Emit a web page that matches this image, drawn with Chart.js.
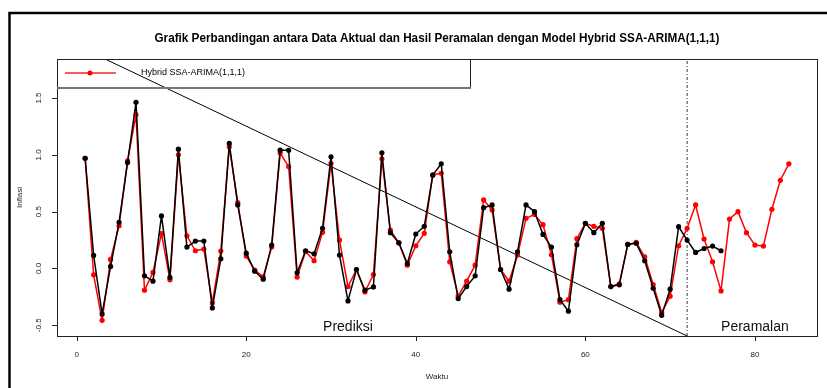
<!DOCTYPE html>
<html>
<head>
<meta charset="utf-8">
<script src="https://cdn.jsdelivr.net/npm/chart.js@4.4.1/dist/chart.umd.min.js"></script>
<style>
  html, body { margin: 0; padding: 0; background: #fff; }
  canvas { display: block; }
</style>
</head>
<body>
<canvas id="grafik" width="827" height="388"></canvas>
<script>
// data inflasi aktual (periode 1..76)
const aktual = [
  0.97, 0.115, -0.40, 0.018, 0.406, 0.932, 1.462, -0.065, -0.112, 0.462,
  -0.079, 1.05, 0.188, 0.241, 0.241, -0.347, 0.085, 1.10, 0.559, 0.135,
  -0.024, -0.094, 0.206, 1.041, 1.04, -0.038, 0.156, 0.129, 0.353, 0.982,
  0.118, -0.285, -0.009, -0.191, -0.162, 1.018, 0.315, 0.226, 0.044, 0.303,
  0.371, 0.821, 0.921, 0.147, -0.265, -0.159, -0.065, 0.535, 0.559, -0.009,
  -0.182, 0.147, 0.559, 0.50, 0.30, 0.188, -0.274, -0.376, 0.209, 0.397,
  0.315, 0.397, -0.159, -0.144, 0.212, 0.221, 0.068, -0.174, -0.412, -0.182,
  0.368, 0.25, 0.141, 0.176, 0.197, 0.156
];

// hasil model hybrid SSA-ARIMA(1,1,1): prediksi 1..72, peramalan 73..84
const hybrid = [
  0.97, -0.056, -0.456, 0.08, 0.376, 0.947, 1.353, -0.191, -0.035, 0.306,
  -0.10, 1.0, 0.288, 0.156, 0.171, -0.303, 0.153, 1.07, 0.579, 0.109,
  -0.015, -0.074, 0.188, 1.015, 0.897, -0.076, 0.15, 0.068, 0.318, 0.926,
  0.25, -0.159, -0.009, -0.206, -0.053, 0.965, 0.338, 0.226, 0.029, 0.20,
  0.309, 0.824, 0.838, 0.059, -0.241, -0.112, 0.029, 0.603, 0.515, -0.009,
  -0.112, 0.118, 0.441, 0.476, 0.385, 0.121, -0.297, -0.274, 0.262, 0.397,
  0.371, 0.353, -0.159, -0.135, 0.212, 0.229, 0.103, -0.141, -0.388, -0.244,
  0.20, 0.353, 0.559, 0.259, 0.059, -0.197, 0.435, 0.50, 0.315, 0.206,
  0.197, 0.521, 0.776, 0.921
];

const xTicks = [0, 20, 40, 60, 80];
const yTicks = [-0.5, 0.0, 0.5, 1.0, 1.5];
const xRange = [-2.32, 87.32];
const yRange = [-0.594, 1.843];

// garis pemisah prediksi / peramalan dan garis miring
const batasX = 72;
const garisX = [3.35, 72];
const garisY = [1.843, -0.594];

const judul = 'Grafik Perbandingan antara Data Aktual dan Hasil Peramalan dengan Model Hybrid SSA-ARIMA(1,1,1)';
const labelLegenda = 'Hybrid SSA-ARIMA(1,1,1)';
const teksBagian = [
  { text: 'Prediksi', x: 32, y: -0.52 },
  { text: 'Peramalan', x: 80, y: -0.52 }
];

const FONT = '"Liberation Sans", Arial, sans-serif';
const toXY = (arr) => arr.map((v, i) => ({ x: i + 1, y: v }));

const dekorasi = {
  id: 'dekorasi',
  beforeDraw(chart) {
    const { ctx } = chart;
    ctx.save();
    ctx.fillStyle = '#fff';
    ctx.fillRect(0, 0, chart.width, chart.height);
    ctx.restore();
  },
  afterDatasetsDraw(chart) {
    const { ctx, chartArea: a, scales: { x, y } } = chart;
    ctx.save();

    // bingkai luar
    ctx.strokeStyle = '#000';
    ctx.lineWidth = 2.5;
    ctx.strokeRect(9.5, 13, 900, 500);

    // judul
    ctx.fillStyle = '#000';
    ctx.font = 'bold 13px "Liberation Sans Narrow", ' + FONT;
    ctx.textAlign = 'center';
    ctx.textBaseline = 'middle';
    const w = ctx.measureText(judul).width;
    ctx.save();
    ctx.translate((a.left + a.right) / 2, 38);
    ctx.scale(565 / w, 1);
    ctx.fillText(judul, 0, 0);
    ctx.restore();

    // kotak area plot
    ctx.strokeStyle = '#222';
    ctx.lineWidth = 1;
    ctx.strokeRect(a.left + 0.5, a.top + 0.5, a.right - a.left, a.bottom - a.top);

    // sumbu x
    ctx.font = '8px ' + FONT;
    ctx.fillStyle = '#222';
    ctx.textBaseline = 'middle';
    ctx.textAlign = 'center';
    ctx.beginPath();
    const x0 = x.getPixelForValue(xTicks[0]);
    const x1 = x.getPixelForValue(xTicks[xTicks.length - 1]);
    ctx.moveTo(x0, a.bottom + 0.5);
    ctx.lineTo(x1, a.bottom + 0.5);
    xTicks.forEach(t => {
      const px = Math.round(x.getPixelForValue(t)) + 0.5;
      ctx.moveTo(px, a.bottom);
      ctx.lineTo(px, a.bottom + 5);
    });
    ctx.stroke();
    xTicks.forEach(t => ctx.fillText(String(t), x.getPixelForValue(t), a.bottom + 19));
    ctx.fillText('Waktu', (a.left + a.right) / 2, 377);

    // sumbu y (label tegak seperti gaya R)
    ctx.beginPath();
    yTicks.forEach(t => {
      const py = Math.round(y.getPixelForValue(t)) + 0.5;
      ctx.moveTo(a.left, py);
      ctx.lineTo(a.left - 5, py);
    });
    ctx.stroke();
    yTicks.forEach(t => {
      ctx.save();
      ctx.translate(39, y.getPixelForValue(t));
      ctx.rotate(-Math.PI / 2);
      ctx.fillText(t.toFixed(1), 0, 0);
      ctx.restore();
    });
    ctx.save();
    ctx.translate(20, (a.top + a.bottom) / 2);
    ctx.rotate(-Math.PI / 2);
    ctx.fillText('Inflasi', 0, 0);
    ctx.restore();

    // teks bagian prediksi / peramalan
    ctx.font = '14px ' + FONT;
    ctx.fillStyle = '#111';
    teksBagian.forEach(t => ctx.fillText(t.text, x.getPixelForValue(t.x), y.getPixelForValue(t.y)));

    // legenda
    const lx = a.left, ly = a.top, lw = 470 - a.left, lh = 29;
    ctx.strokeStyle = '#222';
    ctx.lineWidth = 1;
    ctx.beginPath();
    ctx.moveTo(lx + lw + 0.5, ly);
    ctx.lineTo(lx + lw + 0.5, ly + lh);
    ctx.stroke();
    ctx.strokeStyle = '#777';
    ctx.lineWidth = 2;
    ctx.beginPath();
    ctx.moveTo(lx, ly + lh);
    ctx.lineTo(lx + lw + 1, ly + lh);
    ctx.stroke();
    ctx.strokeStyle = '#ff5a5a';
    ctx.lineWidth = 2;
    ctx.beginPath();
    ctx.moveTo(65, ly + 14);
    ctx.lineTo(116, ly + 14);
    ctx.stroke();
    ctx.fillStyle = '#ff0000';
    ctx.beginPath();
    ctx.arc(90, ly + 14, 2.5, 0, Math.PI * 2);
    ctx.fill();
    ctx.fillStyle = '#000';
    ctx.font = '9px ' + FONT;
    ctx.textAlign = 'left';
    ctx.fillText(labelLegenda, 141, ly + 14);

    ctx.restore();
  }
};

new Chart(document.getElementById('grafik'), {
  type: 'line',
  data: {
    datasets: [
      {
        label: 'Aktual',
        data: toXY(aktual),
        borderColor: '#000',
        backgroundColor: '#000',
        borderWidth: 1.5,
        borderJoinStyle: 'round',
        pointRadius: 2.6,
        pointBorderWidth: 0,
        tension: 0
      },
      {
        label: labelLegenda,
        data: toXY(hybrid),
        borderColor: '#ff0000',
        backgroundColor: '#ff0000',
        borderWidth: 1.5,
        borderJoinStyle: 'round',
        pointRadius: 2.6,
        pointBorderWidth: 0,
        tension: 0
      },
      {
        label: 'garis',
        data: garisX.map((v, i) => ({ x: v, y: garisY[i] })),
        borderColor: '#000',
        borderWidth: 1,
        pointRadius: 0
      },
      {
        label: 'batas',
        data: [{ x: batasX, y: yRange[0] }, { x: batasX, y: yRange[1] }],
        borderColor: '#000',
        borderWidth: 0.8,
        borderDash: [3, 2, 1, 2],
        pointRadius: 0
      }
    ]
  },
  options: {
    responsive: false,
    devicePixelRatio: 1,
    animation: false,
    layout: { padding: { left: 57, top: 59, right: 10, bottom: 52 } },
    scales: {
      x: { type: 'linear', min: xRange[0], max: xRange[1], display: false },
      y: { type: 'linear', min: yRange[0], max: yRange[1], display: false }
    },
    plugins: {
      legend: { display: false },
      tooltip: { enabled: false },
      title: { display: false }
    }
  },
  plugins: [dekorasi]
});
</script>
</body>
</html>
